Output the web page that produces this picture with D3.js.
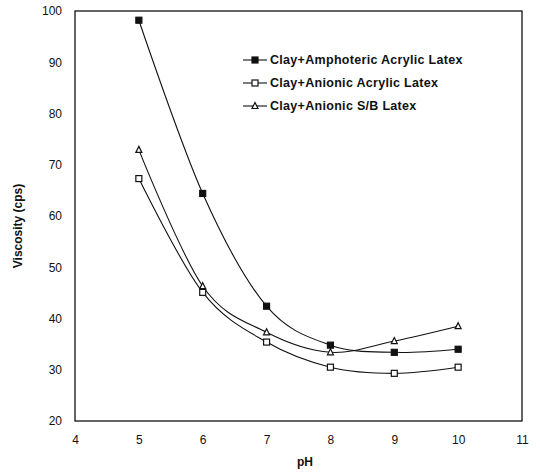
<!DOCTYPE html>
<html>
<head>
<meta charset="utf-8">
<script src="https://cdn.jsdelivr.net/npm/d3@7.9.0/dist/d3.min.js"></script>
<style>
  body { margin: 0; background: #fff; }
  text { font-family: "Liberation Sans", Arial, sans-serif; fill: #111; }
</style>
</head>
<body>
<div id="chart"></div>
<script>
// data
const ph = [5, 6, 7, 8, 9, 10];
const amphotericAcrylic = [98.2, 64.4, 42.4, 34.8, 33.4, 34.0];
const anionicAcrylic = [67.3, 45.1, 35.4, 30.5, 29.3, 30.5];
const anionicSB = [72.9, 46.3, 37.3, 33.4, 35.6, 38.5];
const seriesNames = ["Clay+Amphoteric Acrylic Latex", "Clay+Anionic Acrylic Latex", "Clay+Anionic S/B Latex"];
const xTicks = [4, 5, 6, 7, 8, 9, 10, 11];
const yTicks = [20, 30, 40, 50, 60, 70, 80, 90, 100];

const W = 540, H = 476;
const margin = {top: 11, right: 18, bottom: 55, left: 75},
    width = W - margin.left - margin.right,
    height = H - margin.top - margin.bottom;

const svg = d3.select("#chart")
  .append("svg")
    .attr("width", W)
    .attr("height", H);

const g = svg.append("g")
    .attr("transform", `translate(${margin.left},${margin.top})`);

const x = d3.scaleLinear().domain([4, 11]).range([0, width]);
const y = d3.scaleLinear().domain([20, 100]).range([height, 0]);

// plot frame
g.append("rect")
    .attr("width", width)
    .attr("height", height)
    .attr("fill", "none")
    .attr("stroke", "#111")
    .attr("stroke-width", 1.3);

// axes without tick marks
const xAxis = g.append("g")
    .attr("transform", `translate(0,${height})`)
    .call(d3.axisBottom(x).tickValues(xTicks).tickFormat(d3.format("d")).tickSize(0).tickPadding(14));
const yAxis = g.append("g")
    .call(d3.axisLeft(y).tickValues(yTicks).tickFormat(d3.format("d")).tickSize(0).tickPadding(13));
[xAxis, yAxis].forEach(a => {
  a.select(".domain").remove();
  a.selectAll("text").style("font-size", "12px").attr("fill", "#111");
});

// axis titles
svg.append("text")
    .attr("x", margin.left + x(7.6))
    .attr("y", 466)
    .attr("text-anchor", "middle")
    .style("font-size", "12px")
    .style("font-weight", "bold")
    .text("pH");
svg.append("text")
    .attr("transform", `translate(22,226) rotate(-90)`)
    .attr("text-anchor", "middle")
    .style("font-size", "12px")
    .style("font-weight", "bold")
    .text("Viscosity (cps)");

const series = [
  {name: seriesNames[0], values: amphotericAcrylic, marker: "fsquare"},
  {name: seriesNames[1], values: anionicAcrylic, marker: "osquare"},
  {name: seriesNames[2], values: anionicSB, marker: "triangle"}
];

const line = d3.line()
    .x(d => x(d[0]))
    .y(d => y(d[1]))
    .curve(d3.curveCatmullRom.alpha(0));

function drawMarker(sel, type, cx, cy) {
  if (type === "triangle") {
    sel.append("path")
      .attr("d", `M${cx},${cy - 3.5}L${cx + 3},${cy + 2.5}L${cx - 3},${cy + 2.5}Z`)
      .attr("fill", "#fff").attr("stroke", "#111").attr("stroke-width", 1.2);
  } else {
    sel.append("rect")
      .attr("x", cx - 3).attr("y", cy - 3)
      .attr("width", 6).attr("height", 6)
      .attr("fill", type === "fsquare" ? "#111" : "#fff")
      .attr("stroke", "#111").attr("stroke-width", 1.2);
  }
}

series.forEach(s => {
  const pts = ph.map((p, i) => [p, s.values[i]]);
  g.append("path")
      .datum(pts)
      .attr("d", line)
      .attr("fill", "none")
      .attr("stroke", "#111")
      .attr("stroke-width", 1.1);
  const mg = g.append("g");
  pts.forEach(p => drawMarker(mg, s.marker, x(p[0]), y(p[1])));
});

// legend
const legend = svg.append("g").attr("transform", "translate(243,60)");
series.forEach((s, i) => {
  const row = legend.append("g").attr("transform", `translate(0,${i * 23})`);
  row.append("line")
      .attr("x1", 0).attr("x2", 24)
      .attr("stroke", "#111").attr("stroke-width", 1.1);
  drawMarker(row, s.marker, 12, 0);
  row.append("text")
      .attr("x", 27)
      .attr("dy", "0.35em")
      .style("font-size", "12.5px")
      .style("font-weight", "bold")
      .style("letter-spacing", "0.3px")
      .text(s.name);
});
</script>
</body>
</html>
